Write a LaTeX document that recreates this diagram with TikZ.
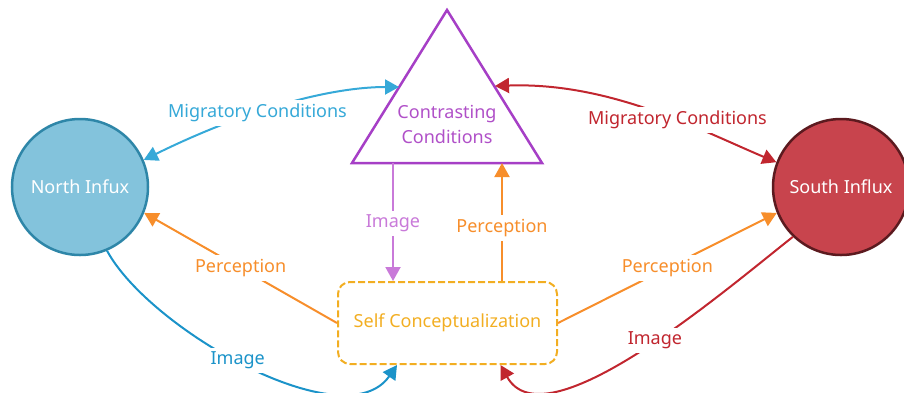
\documentclass[tikz,border=0pt]{standalone}
\usepackage{fontspec}
\setmainfont{Noto Sans}
\usetikzlibrary{arrows.meta}
\definecolor{northFill}{HTML}{83C3DC}
\definecolor{northDraw}{HTML}{2E86A8}
\definecolor{southFill}{HTML}{C8444D}
\definecolor{southDraw}{HTML}{5C1A1F}
\definecolor{blueMig}{HTML}{36A9D8}
\definecolor{blueImg}{HTML}{1B93C9}
\definecolor{purpleTri}{HTML}{A63FC6}
\definecolor{purpleImg}{HTML}{C97AD9}
\definecolor{purpleText}{HTML}{B050C8}
\definecolor{orangeP}{HTML}{F78E2B}
\definecolor{goldBox}{HTML}{F2AE22}
\definecolor{redC}{HTML}{C1262F}
\begin{document}
\begin{tikzpicture}[x=1pt,y=-1pt,
  font=\fontsize{18}{25}\selectfont,
  conn/.style={line width=2pt},
  tipA/.tip={Triangle[length=14pt,width=15pt]},
  lbl/.style={fill=white, inner sep=4pt}]
\useasboundingbox (0,0) rectangle (904,392);
% nodes
\node[circle, draw=northDraw, fill=northFill, line width=2.5pt, minimum size=136pt, inner sep=0pt, text=white] (north) at (80,187) {North Infux};
\node[circle, draw=southDraw, fill=southFill, line width=2.5pt, minimum size=136pt, inner sep=0pt, text=white] (south) at (841,187) {South Influx};
\coordinate (tA) at (447,10);
\coordinate (tL) at (352,163);
\coordinate (tR) at (542,163);
\draw[purpleTri, line width=2.5pt, line join=miter] (tA) -- (tL) -- (tR) -- cycle;
\node[text=purpleText, align=center] (cc) at (447,124) {Contrasting\\Conditions};
\coordinate (tLe) at (399,87);
\coordinate (tRe) at (495,86);
\coordinate (tB1) at (393,163);
\coordinate (tB2) at (502,163);
\node[draw=goldBox, line width=2pt, dash pattern=on 7pt off 3pt, rounded corners=12pt, minimum width=219pt, minimum height=82pt, text=goldBox] (self) at (447.5,323) {Self Conceptualization};
% connectors
\draw[conn, blueMig, tipA-tipA] (north.23) .. controls (245,110) and (330,87) .. (tLe)
  node[lbl, pos=0.4, text=blueMig] {Migratory Conditions};
\draw[conn, redC, tipA-tipA] (tRe) .. controls (610,82) and (700,130) .. (south.159)
  node[lbl, pos=0.6, text=redC] {Migratory Conditions};
\draw[conn, purpleImg, -tipA] (tB1) -- ([xshift=-54.5pt]self.north)
  node[lbl, pos=0.51, text=purpleImg] {Image};
\draw[conn, orangeP, -tipA] ([xshift=54.5pt]self.north) -- (tB2)
  node[lbl, pos=0.45, text=orangeP] {Perception};
\draw[conn, orangeP, -tipA] (self.west) -- (north.-22)
  node[lbl, pos=0.5, text=orangeP] {Perception};
\draw[conn, orangeP, -tipA] (self.east) -- (south.202)
  node[lbl, pos=0.5, text=orangeP] {Perception};
\draw[conn, blueImg, -tipA] (north.-67) .. controls (150,330) and (345,440) .. ([xshift=-50.5pt]self.south)
  node[lbl, pos=0.47, text=blueImg] {Image};
\draw[conn, redC, -tipA] (south.226) .. controls (723,292) and (545,445) .. ([xshift=53pt]self.south)
  node[lbl, pos=0.45, text=redC] {Image};
\end{tikzpicture}
\end{document}
